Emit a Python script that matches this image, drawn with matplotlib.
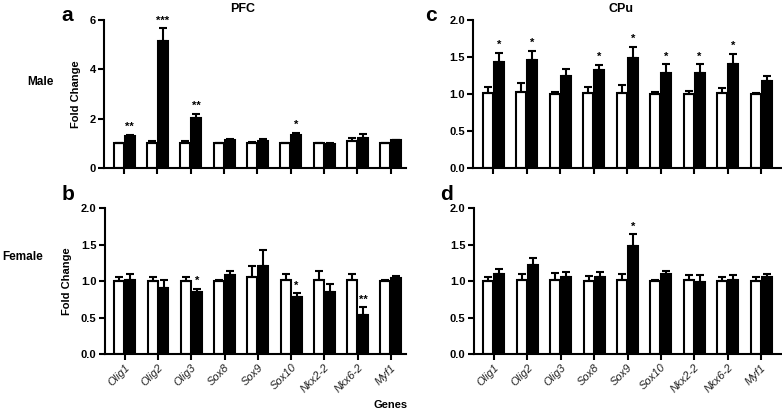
import numpy as np
import matplotlib
matplotlib.use('Agg')
import matplotlib.pyplot as plt

plt.rcParams['font.family'] = ['Liberation Sans', 'DejaVu Sans']

genes = ['Olig1', 'Olig2', 'Olig3', 'Sox8', 'Sox9', 'Sox10', 'Nkx2-2', 'Nkx6-2', 'Myf1']

# a - PFC, male
pfc_m_ctrl = [1.0, 1.03, 1.03, 1.0, 1.02, 1.0, 1.0, 1.08, 1.0]
pfc_m_ctrl_err = [0.03, 0.05, 0.05, 0.03, 0.05, 0.03, 0.03, 0.15, 0.03]
pfc_m_trt = [1.28, 5.16, 2.03, 1.15, 1.1, 1.32, 0.97, 1.22, 1.12]
pfc_m_trt_err = [0.05, 0.5, 0.18, 0.03, 0.08, 0.12, 0.03, 0.18, 0.03]
pfc_m_sig = ['**', '***', '**', '', '', '*', '', '', '']

# b - PFC, female
pfc_f_ctrl = [1.0, 1.0, 1.0, 1.0, 1.06, 1.01, 1.02, 1.01, 1.0]
pfc_f_ctrl_err = [0.05, 0.05, 0.05, 0.02, 0.14, 0.08, 0.12, 0.08, 0.02]
pfc_f_trt = [1.01, 0.91, 0.85, 1.08, 1.21, 0.78, 0.85, 0.53, 1.04]
pfc_f_trt_err = [0.08, 0.1, 0.04, 0.06, 0.21, 0.05, 0.11, 0.11, 0.03]
pfc_f_sig = ['', '', '*', '', '', '*', '', '**', '']

# c - CPu, male
cpu_m_ctrl = [1.02, 1.03, 1.0, 1.02, 1.02, 1.0, 1.0, 1.01, 1.0]
cpu_m_ctrl_err = [0.07, 0.12, 0.03, 0.07, 0.1, 0.03, 0.04, 0.07, 0.02]
cpu_m_trt = [1.43, 1.46, 1.24, 1.32, 1.49, 1.28, 1.28, 1.41, 1.18]
cpu_m_trt_err = [0.13, 0.12, 0.1, 0.07, 0.15, 0.12, 0.12, 0.13, 0.06]
cpu_m_sig = ['*', '*', '', '*', '*', '*', '*', '*', '']

# d - CPu, female
cpu_f_ctrl = [1.0, 1.02, 1.02, 1.0, 1.01, 1.0, 1.01, 1.0, 1.0]
cpu_f_ctrl_err = [0.05, 0.08, 0.09, 0.07, 0.08, 0.02, 0.07, 0.05, 0.05]
cpu_f_trt = [1.1, 1.22, 1.06, 1.06, 1.48, 1.1, 0.98, 1.01, 1.05]
cpu_f_trt_err = [0.07, 0.1, 0.07, 0.06, 0.16, 0.04, 0.1, 0.07, 0.05]
cpu_f_sig = ['', '', '', '', '*', '', '', '', '']


def draw_panel(ax, ctrl, ctrl_err, trt, trt_err, sig, ymax, yticks, fmt, labels, xright):
    x = np.arange(len(genes))
    w = 0.3
    off = 0.165
    ekw = dict(elinewidth=1.5, capsize=3, capthick=1.5, ecolor='black')
    ax.bar(x - off, ctrl, w, color='white', edgecolor='black', linewidth=1.5,
           yerr=[np.zeros(len(ctrl)), ctrl_err], error_kw=ekw, zorder=2)
    ax.bar(x + off, trt, w, color='black', edgecolor='black', linewidth=1.5,
           yerr=[np.zeros(len(trt)), trt_err], error_kw=ekw, zorder=2)
    step = ymax * 0.02
    for i, s in enumerate(sig):
        if s:
            ax.text(x[i] + off, trt[i] + trt_err[i] + step, s, ha='center', va='bottom',
                    fontsize=8, fontweight='bold')
    ax.set_ylim(0, ymax)
    ax.set_xlim(-0.6, xright)
    ax.set_yticks(yticks)
    ax.set_yticklabels([fmt % v for v in yticks], fontsize=8, fontweight='bold')
    ax.set_xticks(x)
    if labels:
        ax.set_xticklabels(genes, rotation=45, ha='right', rotation_mode='anchor',
                           fontsize=8, style='italic', color='#222222')
    else:
        ax.set_xticklabels([])
    for sp in ['top', 'right']:
        ax.spines[sp].set_visible(False)
    for sp in ['left', 'bottom']:
        ax.spines[sp].set_linewidth(1.5)
    ax.tick_params(width=1.5, length=4, direction='out', pad=2)


fig = plt.figure(figsize=(7.82, 4.16), dpi=100)
ax_a = fig.add_axes([0.133, 0.596, 0.386, 0.356])
ax_b = fig.add_axes([0.134, 0.149, 0.385, 0.351])
ax_c = fig.add_axes([0.605, 0.596, 0.394, 0.356])
ax_d = fig.add_axes([0.606, 0.149, 0.393, 0.351])

draw_panel(ax_a, pfc_m_ctrl, pfc_m_ctrl_err, pfc_m_trt, pfc_m_trt_err, pfc_m_sig,
           6, [0, 2, 4, 6], '%d', False, 8.45)
draw_panel(ax_b, pfc_f_ctrl, pfc_f_ctrl_err, pfc_f_trt, pfc_f_trt_err, pfc_f_sig,
           2, [0, 0.5, 1.0, 1.5, 2.0], '%.1f', True, 8.45)
draw_panel(ax_c, cpu_m_ctrl, cpu_m_ctrl_err, cpu_m_trt, cpu_m_trt_err, cpu_m_sig,
           2, [0, 0.5, 1.0, 1.5, 2.0], '%.1f', False, 8.6)
draw_panel(ax_d, cpu_f_ctrl, cpu_f_ctrl_err, cpu_f_trt, cpu_f_trt_err, cpu_f_sig,
           2, [0, 0.5, 1.0, 1.5, 2.0], '%.1f', True, 8.6)

for ax in [ax_a, ax_b]:
    ax.set_ylabel('Fold Change', fontsize=8, fontweight='bold', labelpad=6)

ax_a.set_title('PFC', fontsize=9, fontweight='bold', pad=6, x=0.46)
ax_c.set_title('CPu', fontsize=9, fontweight='bold', pad=6, x=0.48)

fig.text(0.079, 0.985, 'a', fontsize=15, fontweight='bold', va='top', ha='left')
fig.text(0.079, 0.555, 'b', fontsize=15, fontweight='bold', va='top', ha='left')
fig.text(0.543, 0.985, 'c', fontsize=15, fontweight='bold', va='top', ha='left')
fig.text(0.563, 0.555, 'd', fontsize=15, fontweight='bold', va='top', ha='left')

fig.text(0.052, 0.803, 'Male', fontsize=8.5, fontweight='bold', ha='center', va='center')
fig.text(0.029, 0.382, 'Female', fontsize=8.5, fontweight='bold', ha='center', va='center')
fig.text(0.5, 0.027, 'Genes', fontsize=8, fontweight='bold', ha='center', va='center')

plt.savefig('out.png', dpi=100)
